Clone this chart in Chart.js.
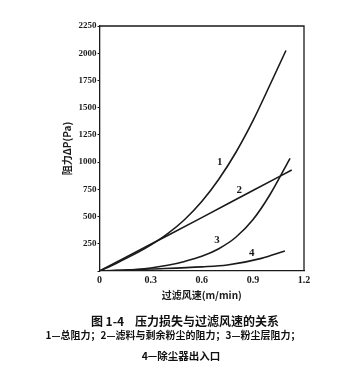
<!DOCTYPE html>
<html>
<head>
<meta charset="utf-8">
<script src="https://cdn.jsdelivr.net/npm/chart.js@4/dist/chart.umd.min.js"></script>
<style>
  html, body { margin: 0; padding: 0; background: #fff; }
  #wrap { position: relative; width: 350px; height: 371px; }
  .cap { position: absolute; left: 0; width: 350px; text-align: center; color: #111;
         font-family: "Noto Sans CJK SC", sans-serif; font-weight: bold; white-space: nowrap; }
</style>
</head>
<body>
<div id="wrap">
  <canvas id="chart" width="350" height="371"></canvas>
  <div class="cap" style="top:312px;font-size:12px;left:10px;">图 1-4&nbsp;&nbsp;&nbsp;&nbsp;压力损失与过滤风速的关系</div>
  <div class="cap" style="top:327px;font-size:10px;left:-2px;">1—总阻力；2—滤料与剩余粉尘的阻力；3—粉尘层阻力；</div>
  <div class="cap" style="top:348px;font-size:10.5px;left:6px;">4—除尘器出入口</div>
</div>
<script>
// 压力损失与过滤风速 - 读图估计值
const xTicks = [0, 0.3, 0.6, 0.9, 1.2];
const yTicks = [0, 250, 500, 750, 1000, 1250, 1500, 1750, 2000, 2250];

// 1 总阻力
const speedTotal = [0, 0.1, 0.2, 0.3, 0.4, 0.5, 0.6, 0.7, 0.8, 0.9, 1.0, 1.094];
const totalLoss  = [0, 72, 150, 238, 343, 473, 638, 843, 1088, 1378, 1708, 2025];
// 2 滤料与剩余粉尘的阻力
const speedFilter = [0, 0.3, 0.6, 0.9, 1.128];
const filterLoss  = [0, 245, 490, 740, 927];
// 3 粉尘层阻力
const speedDust = [0, 0.1, 0.2, 0.3, 0.4, 0.5, 0.6, 0.7, 0.8, 0.9, 1.0, 1.118];
const dustLoss  = [0, 4, 12, 28, 52, 88, 135, 205, 310, 470, 700, 1035];
// 4 除尘器出入口
const speedOutlet = [0, 0.3, 0.6, 0.75, 0.95, 1.088];
const outletLoss  = [0, 18, 38, 55, 116, 184];

// 曲线编号及其位置 (数据坐标)
const curveIds = ['1', '2', '3', '4'];
const idAtX = [0.706, 0.82, 0.69, 0.894];
const idAtY = [996, 744, 285, 168];

const ink = '#1a1a1a';
const pts = (xs, ys) => xs.map((x, i) => ({ x, y: ys[i] }));
const line = data => ({ data, borderColor: ink, borderWidth: 1.6, pointRadius: 0, fill: false, cubicInterpolationMode: 'monotone' });

const framePlugin = {
  id: 'frame',
  afterDatasetsDraw(chart) {
    const { ctx, chartArea: a, scales } = chart;
    ctx.save();
    ctx.strokeStyle = ink;
    ctx.lineWidth = 1.3;
    ctx.beginPath();
    ctx.moveTo(a.left, a.top);
    ctx.lineTo(a.right, a.top);
    ctx.lineTo(a.right, a.bottom);
    ctx.stroke();
    ctx.fillStyle = ink;
    ctx.font = 'bold 11px "Liberation Serif", serif';
    ctx.textAlign = 'center';
    ctx.textBaseline = 'middle';
    curveIds.forEach((t, i) => {
      ctx.fillText(t, scales.x.getPixelForValue(idAtX[i]), scales.y.getPixelForValue(idAtY[i]));
    });
    ctx.restore();
  }
};

new Chart(document.getElementById('chart'), {
  type: 'line',
  data: {
    datasets: [
      line(pts(speedTotal, totalLoss)),
      line(pts(speedFilter, filterLoss)),
      line(pts(speedDust, dustLoss)),
      line(pts(speedOutlet, outletLoss))
    ]
  },
  options: {
    responsive: false,
    animation: false,
    layout: { padding: { left: 56, right: 46, top: 26, bottom: 70 } },
    plugins: { legend: { display: false }, tooltip: { enabled: false } },
    scales: {
      x: {
        type: 'linear', min: 0, max: 1.2,
        afterFit: s => { s.height = 30; },
        afterBuildTicks: s => { s.ticks = xTicks.map(v => ({ value: v })); },
        grid: { drawOnChartArea: false, drawTicks: false },
        border: { color: ink, width: 1.3 },
        ticks: { color: ink, padding: 3, font: { family: '"Liberation Serif", serif', size: 10, weight: 'bold' },
                 callback: v => v === 0 ? '0' : v.toFixed(1) },
        title: { display: true, text: '过滤风速(m/min)', color: ink, padding: { top: 0, bottom: 0 },
                 font: { family: '"Noto Sans CJK SC", sans-serif', size: 10, weight: 'bold' } }
      },
      y: {
        type: 'linear', min: 0, max: 2250,
        afterFit: s => { s.width = 43.5; },
        afterBuildTicks: s => { s.ticks = yTicks.map(v => ({ value: v })); },
        grid: { drawOnChartArea: false, tickLength: 2, color: ink },
        border: { color: ink, width: 1.3 },
        ticks: { color: ink, padding: 1, font: { family: '"Liberation Serif", serif', size: 9, weight: 'bold' },
                 callback: v => v === 0 ? '' : String(v) },
        title: { display: true, text: '阻力ΔP(Pa)', color: ink, padding: { top: 5, bottom: 0 },
                 font: { family: '"Noto Sans CJK SC", sans-serif', size: 10, weight: 'bold' } }
      }
    }
  },
  plugins: [framePlugin]
});
</script>
</body>
</html>
